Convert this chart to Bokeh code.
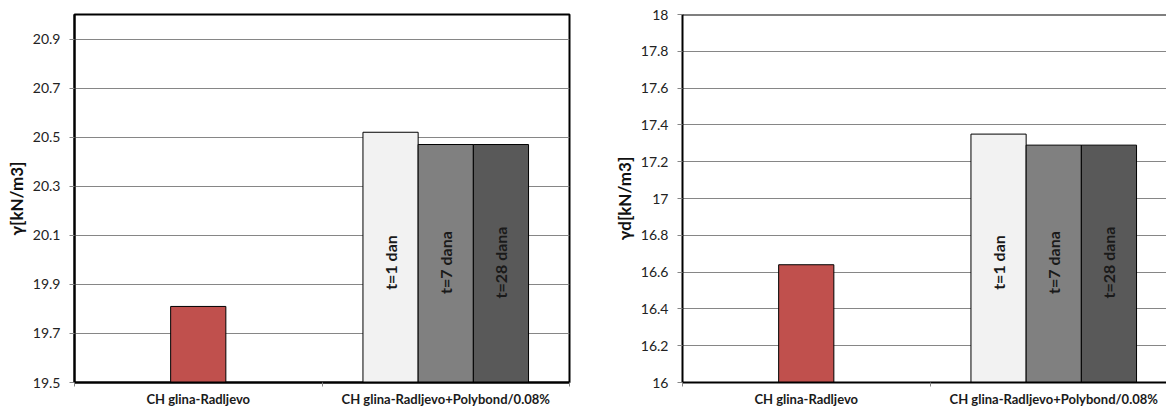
import math
from bokeh.plotting import figure
from bokeh.layouts import row
from bokeh.models import Range1d, FixedTicker, Span, ColumnDataSource
from bokeh.core.properties import value
from bokeh.embed import file_html
from bokeh.resources import INLINE

# ---------------- data ----------------
categories = ["CH glina-Radljevo", "CH glina-Radljevo+Polybond/0.08%"]
series = ["t=1 dan", "t=7 dana", "t=28 dana"]

gamma_base = [19.81]
gamma_poly = [20.52, 20.47, 20.47]
gamma_ticks = [19.5, 19.7, 19.9, 20.1, 20.3, 20.5, 20.7, 20.9]
gamma_range = [19.5, 21.0]

gd_base = [16.64]
gd_poly = [17.35, 17.29, 17.29]
gd_ticks = [16, 16.2, 16.4, 16.6, 16.8, 17, 17.2, 17.4, 17.6, 17.8, 18]
gd_range = [16.0, 18.0]

# ---------------- style ----------------
BASE_COLOR = "#C0504D"
SERIES_COLORS = ["#F2F2F2", "#808080", "#595959"]
GRID = "#868686"
FONT = "Lato"
PX_PER_CAT = 247.5
BAR_W = 0.223


def make_chart(yr, ticks, base, poly, ylab, frame_w, min_left, min_right, full_outline, overrides):
    ylo, yhi = yr
    x_end = frame_w / PX_PER_CAT
    p = figure(width=min_left + frame_w + min_right, height=409,
               x_range=Range1d(0, x_end), y_range=Range1d(ylo, yhi),
               output_backend="svg", toolbar_location=None,
               min_border_left=min_left, min_border_right=min_right,
               min_border_top=14, min_border_bottom=27)
    p.background_fill_color = "white"
    p.border_fill_color = "white"
    if full_outline:
        p.outline_line_color = "black"
        p.outline_line_width = 2
    else:
        p.outline_line_color = None
        p.add_layout(Span(location=yhi, dimension="width", line_color="black", line_width=2))

    # grid
    p.xgrid.visible = False
    p.ygrid.ticker = FixedTicker(ticks=ticks)
    p.ygrid.grid_line_color = GRID
    p.ygrid.grid_line_width = 1

    # y axis
    ya = p.yaxis[0]
    ya.ticker = FixedTicker(ticks=ticks)
    ya.axis_line_color = "black"
    ya.axis_line_width = 2
    ya.major_tick_line_color = GRID
    ya.major_tick_out = 5
    ya.major_tick_in = 0
    ya.minor_tick_line_color = None
    ya.major_label_standoff = 9
    ya.major_label_text_font = FONT
    ya.major_label_text_font_size = "14px"
    ya.major_label_text_color = "#222222"
    if overrides:
        ya.major_label_overrides = overrides
    ya.axis_label = ylab
    ya.axis_label_standoff = 3
    ya.axis_label_text_font = FONT
    ya.axis_label_text_font_style = "bold"
    ya.axis_label_text_font_size = "17px"
    ya.axis_label_text_color = "#111111"

    # x axis: category labels centred, ticks at category boundaries
    xa = p.xaxis[0]
    ncat = len(categories)
    centers = [i + 0.5 for i in range(ncat)]
    xa.ticker = FixedTicker(ticks=centers, minor_ticks=list(range(ncat + 1)))
    xa.major_label_overrides = {c: name for c, name in zip(centers, categories)}
    xa.axis_line_color = "black"
    xa.axis_line_width = 2
    xa.minor_tick_line_color = GRID
    xa.minor_tick_out = 4
    xa.minor_tick_in = 0
    xa.major_tick_line_color = None
    xa.major_tick_out = 0
    xa.major_tick_in = 0
    xa.major_label_standoff = 4
    xa.major_label_text_font = FONT
    xa.major_label_text_font_style = "bold"
    xa.major_label_text_font_size = "13px"
    xa.major_label_text_color = "#1a1a1a"

    # bars
    p.vbar(x=[0.5], top=base, bottom=ylo, width=BAR_W,
           fill_color=BASE_COLOR, line_color="black", line_width=1)
    xs = [1.5 + (i - 1) * BAR_W for i in range(len(poly))]
    src = ColumnDataSource(dict(x=xs, top=poly, color=SERIES_COLORS, label=series,
                                ty=[ylo + 0.326 * (yhi - ylo)] * len(poly)))
    p.vbar(x="x", top="top", bottom=ylo, width=BAR_W, source=src,
           fill_color="color", line_color="black", line_width=1)
    p.text(x="x", y="ty", text="label", source=src, angle=math.pi / 2,
           text_align="center", text_baseline="middle",
           text_font=value(FONT), text_font_style="bold",
           text_font_size="16px", text_color="#1a1a1a")
    return p


p1 = make_chart(gamma_range, gamma_ticks, gamma_base, gamma_poly, "γ[kN/m3]",
                495, 74, 13, True, None)
p2 = make_chart(gd_range, gd_ticks, gd_base, gd_poly, "γd[kN/m3]",
                484, 100, 0, False, {16: "16", 17: "17", 18: "18"})

layout = row(p1, p2)
open("out.html", "w").write(file_html(layout, INLINE))
